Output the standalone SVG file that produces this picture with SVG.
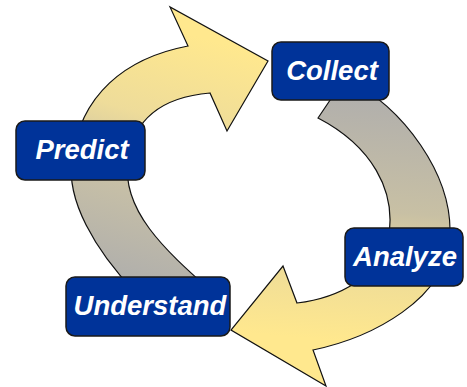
<svg xmlns="http://www.w3.org/2000/svg" width="467" height="387" viewBox="0 0 467 387">
<defs>
<linearGradient id="gTop" gradientUnits="userSpaceOnUse" x1="210" y1="40" x2="140" y2="285">
<stop offset="0" stop-color="#FFE88E"/>
<stop offset="0.35" stop-color="#EEDC9A"/>
<stop offset="0.6" stop-color="#C9C1A6"/>
<stop offset="1" stop-color="#B0AFAC"/>
</linearGradient>
<linearGradient id="gBot" gradientUnits="userSpaceOnUse" x1="350" y1="100" x2="330" y2="340">
<stop offset="0" stop-color="#B2B0AC"/>
<stop offset="0.45" stop-color="#C8C0A4"/>
<stop offset="0.7" stop-color="#EEDC98"/>
<stop offset="1" stop-color="#FFE88E"/>
</linearGradient>
<style>
.arrow{stroke:#111;stroke-width:1.2;stroke-linejoin:miter}
.box{fill:#003399;stroke:#1a1a1a;stroke-width:1.5}
.lbl{font-family:"Liberation Sans",Arial,sans-serif;font-weight:bold;font-style:italic;font-size:27.5px;fill:#fff;text-anchor:middle}
</style>
</defs>
<g id="connectors">
<path class="arrow" fill="url(#gTop)" d="M 135,292 C 95,250 66,200 72,160 C 80,95 125,58 188,46 L 170,7 L 268,61 L 227,131 L 210,93 C 175,96 135,110 128,160 C 121,210 165,250 210,290 Z"/>
<path class="arrow" fill="url(#gBot)" d="M 318,118 L 345,78 C 405,108 452,175 450,235 C 448,300 370,338 313,350 L 326,386 L 231,330 L 283,266 L 297,303 C 340,298 380,275 388,240 C 398,190 370,145 318,118 Z"/>
</g>
<g id="collect">
<rect class="box" x="272" y="42" width="117" height="58" rx="9"/>
<text class="lbl" x="332" y="80">Collect</text>
</g>
<g id="predict">
<rect class="box" x="16" y="121" width="129" height="59" rx="9"/>
<text class="lbl" x="82" y="159">Predict</text>
</g>
<g id="understand">
<rect class="box" x="66" y="277" width="164" height="59" rx="9"/>
<text class="lbl" x="150" y="315">Understand</text>
</g>
<g id="analyze">
<rect class="box" x="345" y="228" width="118" height="58" rx="9"/>
<text class="lbl" x="405" y="266">Analyze</text>
</g>
</svg>
